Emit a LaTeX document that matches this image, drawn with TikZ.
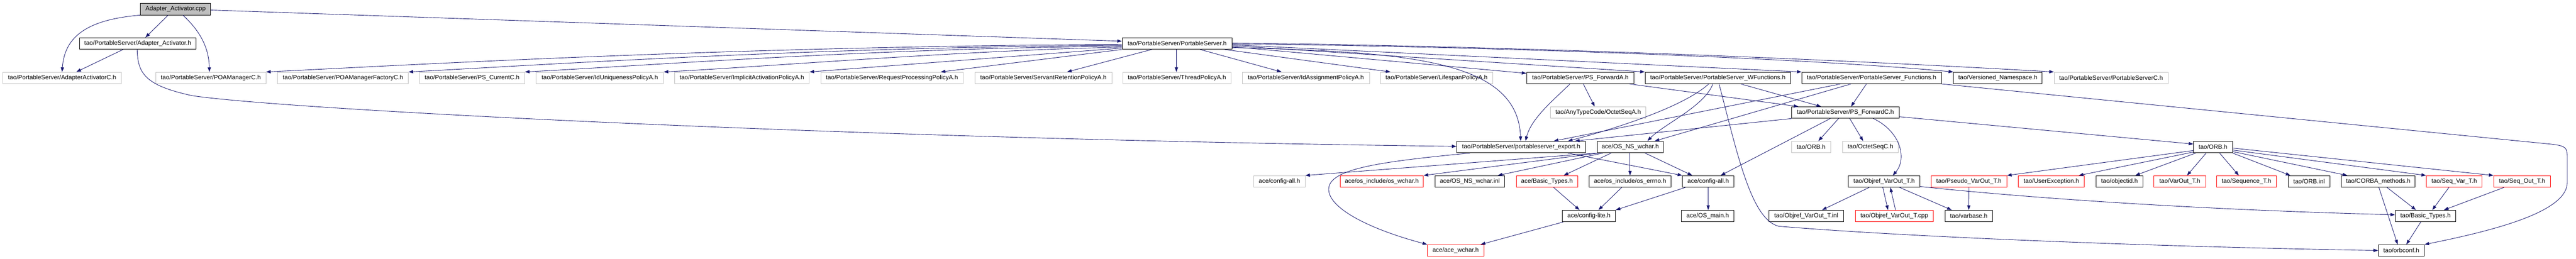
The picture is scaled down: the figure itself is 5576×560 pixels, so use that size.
\documentclass[tikz,border=0pt]{standalone}
\usepackage{fontspec}
\newfontfamily\nodefont{Liberation Sans}
\usetikzlibrary{arrows.meta}
\definecolor{edgecol}{HTML}{191970}
\definecolor{graybd}{HTML}{BFBFBF}
\definecolor{redbd}{HTML}{FF0000}
\tikzset{
  box/.style={rectangle, minimum height=25pt, inner xsep=2pt, inner ysep=0pt,
    line width=1pt, fill=white, anchor=center, text=black,
    font={\nodefont\fontsize{13.33}{16}\selectfont}},
  nb/.style={box, draw=black},
  ng/.style={box, draw=graybd},
  nr/.style={box, draw=redbd},
  nroot/.style={box, draw=black, fill=graybd},
  dep/.style={draw=edgecol, line width=1pt, -{Triangle[length=10pt,width=7pt]}, edgecol}
}
\begin{document}
\begin{tikzpicture}[x=1pt,y=-1pt]
\useasboundingbox (0,0) rectangle (5576,560);
% Row A
\node[nroot, minimum width=152pt] (cpp) at (380,19.8) {Adapter\_Activator.cpp};
% Row B
\node[nb, minimum width=252.6pt] (aah) at (298.2,94.2) {tao/PortableServer/Adapter\_Activator.h};
\node[nb, minimum width=238pt] (psh) at (2548,94.2) {tao/PortableServer/PortableServer.h};
% Row C
\node[ng, minimum width=257pt] (aacC) at (134.4,168.8) {tao/PortableServer/AdapterActivatorC.h};
\node[ng, minimum width=238.3pt] (poamC) at (456.3,168.8) {tao/PortableServer/POAManagerC.h};
\node[ng, minimum width=283pt] (poamfC) at (742.4,168.8) {tao/PortableServer/POAManagerFactoryC.h};
\node[ng, minimum width=227.6pt] (pscurC) at (1021.9,168.8) {tao/PortableServer/PS\_CurrentC.h};
\node[ng, minimum width=275.3pt] (iduA) at (1298.5,168.8) {tao/PortableServer/IdUniquenessPolicyA.h};
\node[ng, minimum width=291.8pt] (implA) at (1605.8,168.8) {tao/PortableServer/ImplicitActivationPolicyA.h};
\node[ng, minimum width=308pt] (reqA) at (1930.8,168.8) {tao/PortableServer/RequestProcessingPolicyA.h};
\node[ng, minimum width=297.2pt] (srvA) at (2258.5,168.8) {tao/PortableServer/ServantRetentionPolicyA.h};
\node[ng, minimum width=235.1pt] (thrA) at (2547.6,168.8) {tao/PortableServer/ThreadPolicyA.h};
\node[ng, minimum width=275.3pt] (idaA) at (2826.6,168.8) {tao/PortableServer/IdAssignmentPolicyA.h};
\node[ng, minimum width=243.2pt] (lifeA) at (3109.6,168.8) {tao/PortableServer/LifespanPolicyA.h};
\node[nb, minimum width=232.5pt] (psfA) at (3420.8,168.8) {tao/PortableServer/PS\_ForwardA.h};
\node[nb, minimum width=315pt] (wfun) at (3718.3,168.8) {tao/PortableServer/PortableServer\_WFunctions.h};
\node[nb, minimum width=302pt] (fun) at (4051.1,168.8) {tao/PortableServer/PortableServer\_Functions.h};
\node[nb, minimum width=192pt] (vns) at (4324.5,168.8) {tao/Versioned\_Namespace.h};
\node[ng, minimum width=246.5pt] (psC) at (4569.5,168.8) {tao/PortableServer/PortableServerC.h};
% Row D
\node[ng, minimum width=207pt] (octA) at (3459.4,243.8) {tao/AnyTypeCode/OctetSeqA.h};
\node[nb, minimum width=232.5pt] (psfC) at (3994.5,243.8) {tao/PortableServer/PS\_ForwardC.h};
% Row E
\node[nb, minimum width=279pt] (pse) at (3292.7,318.5) {tao/PortableServer/portableserver\_export.h};
\node[nb, minimum width=143.4pt] (osnsw) at (3528.8,318.5) {ace/OS\_NS\_wchar.h};
\node[ng, minimum width=84.2pt] (orbg) at (3920.2,318.5) {tao/ORB.h};
\node[ng, minimum width=121pt] (octC) at (4048.8,318.5) {tao/OctetSeqC.h};
\node[nb, minimum width=84pt] (orb) at (4790.2,318.5) {tao/ORB.h};
% Row F
\node[ng, minimum width=111.2pt] (cfgAg) at (2769.4,393) {ace/config-all.h};
\node[nr, minimum width=180pt] (oswchar) at (2991,393) {ace/os\_include/os\_wchar.h};
\node[nb, minimum width=151pt] (osnswinl) at (3181.6,393) {ace/OS\_NS\_wchar.inl};
\node[nr, minimum width=132.7pt] (aceBT) at (3348.5,393) {ace/Basic\_Types.h};
\node[nb, minimum width=177pt] (oserrno) at (3528.3,393) {ace/os\_include/os\_errno.h};
\node[nb, minimum width=111.3pt] (cfgA) at (3697.5,393) {ace/config-all.h};
\node[nb, minimum width=154.6pt] (objh) at (4078.3,393) {tao/Objref\_VarOut\_T.h};
\node[nr, minimum width=163.7pt] (pseudo) at (4262,393) {tao/Pseudo\_VarOut\_T.h};
\node[nr, minimum width=143pt] (userex) at (4440.3,393) {tao/UserException.h};
\node[nb, minimum width=101.4pt] (objid) at (4587.8,393) {tao/objectid.h};
\node[nr, minimum width=113pt] (varout) at (4718.4,393) {tao/VarOut\_T.h};
\node[nr, minimum width=129.6pt] (seqT) at (4862.7,393) {tao/Sequence\_T.h};
\node[nb, minimum width=91pt] (orbinl) at (4998.3,393) {tao/ORB.inl};
\node[nb, minimum width=160pt] (corba) at (5147.9,393) {tao/CORBA\_methods.h};
\node[nr, minimum width=120.7pt] (seqvar) at (5312.3,393) {tao/Seq\_Var\_T.h};
\node[nr, minimum width=122.8pt] (seqout) at (5459.3,393) {tao/Seq\_Out\_T.h};
% Row G
\node[nb, minimum width=114.8pt] (cfglite) at (3439.5,467.8) {ace/config-lite.h};
\node[nb, minimum width=113.3pt] (osmain) at (3696.5,467.8) {ace/OS\_main.h};
\node[nb, minimum width=161.2pt] (objinl) at (3909.7,467.8) {tao/Objref\_VarOut\_T.inl};
\node[nr, minimum width=169pt] (objcpp) at (4100.3,467.8) {tao/Objref\_VarOut\_T.cpp};
\node[nb, minimum width=102.5pt] (varbase) at (4261.5,467.8) {tao/varbase.h};
\node[nb, minimum width=130.8pt] (taoBT) at (5250.3,467.8) {tao/Basic\_Types.h};
% Row H
\node[nr, minimum width=122pt] (acewchar) at (3150.8,542.5) {ace/ace\_wchar.h};
\node[nb, minimum width=99.4pt] (orbconf) at (5197.8,542.5) {tao/orbconf.h};

% ---- edges ----
\draw[dep] (cpp.south west) .. controls (195,42) and (140,75) .. (aacC.north);
\draw[dep] ([xshift=-16pt]cpp.south) -- ([xshift=16.5pt]aah.north);
\draw[dep] ([xshift=16pt]cpp.south) .. controls (425,60) and (452,95) .. ([xshift=-3pt]poamC.north);
\draw[dep] ([yshift=-2pt]cpp.east) -- ([yshift=5pt]psh.west);
\draw[dep] ([xshift=-31.7pt]aah.south) -- ([xshift=30.8pt]aacC.north);
\draw[dep] ([xshift=-1.3pt]aah.south) .. controls (298,160) and (315,185) .. (415,207)
   .. controls (600,236) and (1800,300) .. ([yshift=1.5pt]pse.west);
\draw[dep] ([yshift=-2pt]psh.west) .. controls (1600,100) and (900,140) .. (poamC.north east);
\draw[dep] ([yshift=-4pt]psh.west) .. controls (1750,102) and (1150,142) .. (poamfC.north east);
\draw[dep] ([yshift=-6pt]psh.west) .. controls (1900,104) and (1400,142) .. (pscurC.north east);
\draw[dep] ([yshift=-8pt]psh.west) .. controls (2100,108) and (1650,145) .. (iduA.north east);
\draw[dep] ([yshift=-10pt]psh.west) -- (implA.north east);
\draw[dep] (psh.south west) -- ([xshift=105.4pt]reqA.north);
\draw[dep] ([xshift=-55pt]psh.south) -- ([xshift=51.3pt]srvA.north);
\draw[dep] ([xshift=-1.6pt]psh.south) -- ([xshift=-1.2pt]thrA.north);
\draw[dep] ([xshift=49.8pt]psh.south) -- ([xshift=-52.6pt]idaA.north);
\draw[dep] ([xshift=103pt]psh.south) -- ([xshift=-99.8pt]lifeA.north);
\draw[dep] ([yshift=-7pt]psh.east) -- ([yshift=-3pt]psfA.north west);
\draw[dep] ([yshift=-9pt]psh.east) .. controls (3050,112) and (3285,130) .. ([xshift=-1pt]pse.north);
\draw[dep] ([yshift=-5pt]psh.east) -- (wfun.north west);
\draw[dep] ([yshift=-3pt]psh.east) -- (fun.north west);
\draw[dep] ([yshift=-1pt]psh.east) .. controls (3200,100) and (3900,125) .. (vns.north west);
\draw[dep] ([yshift=1pt]psh.east) .. controls (3300,100) and (4000,130) .. (psC.north west);
\draw[dep] ([xshift=-22.6pt]psfA.south) .. controls (3365,215) and (3315,255) .. ([xshift=9.3pt]pse.north);
\draw[dep] ([xshift=6.4pt]psfA.south) -- ([xshift=-7.6pt]octA.north);
\draw[dep] ([xshift=106pt]psfA.south) -- ([xshift=-101.6pt]psfC.north);
\draw[dep] ([xshift=49.6pt]wfun.south) -- ([xshift=-52.5pt]psfC.north);
\draw[dep] ([xshift=-19.6pt]wfun.south) .. controls (3640,235) and (3480,283) .. ([xshift=101.3pt]pse.north);
\draw[dep] ([xshift=-10.7pt]wfun.south) .. controls (3690,230) and (3600,270) .. ([xshift=37.2pt]osnsw.north);
\draw[dep] ([xshift=2.7pt]wfun.south) .. controls (3760,330) and (3790,475) .. (3850,490)
   .. controls (4150,515) and (4700,535) .. (orbconf.west);
\draw[dep] ([xshift=-67.1pt]fun.south) -- ([xshift=70.3pt]pse.north);
\draw[dep] ([xshift=-44.4pt]fun.south) -- ([xshift=52.8pt]osnsw.north);
\draw[dep] ([xshift=-11.1pt]fun.south) -- ([xshift=12.2pt]psfC.north);
\draw[dep] (fun.south east) -- (5520,312) .. controls (5557,316) and (5557,320) .. (5557,345)
   -- (5557,395) .. controls (5557,455) and (5420,495) .. (orbconf.north east);
\draw[dep] (psfC.south west) -- ([xshift=116.3pt]pse.north);
\draw[dep] ([xshift=-32.8pt]psfC.south) -- ([xshift=27pt]cfgA.north);
\draw[dep] ([xshift=-14.9pt]psfC.south) -- ([xshift=15.8pt]orbg.north);
\draw[dep] ([xshift=9.5pt]psfC.south) -- ([xshift=-15.8pt]octC.north);
\draw[dep] ([xshift=60.5pt]psfC.south) .. controls (4115,285) and (4128,345) .. ([xshift=18.7pt]objh.north);
\draw[dep] ([yshift=-9pt]psfC.east) -- ([yshift=6.5pt]orb.west);
\draw[dep] ([xshift=-111pt]pse.south) .. controls (2990,350) and (2876,365) .. (2876,410)
   .. controls (2876,450) and (2960,495) .. (acewchar.north west);
\draw[dep] ([xshift=101pt]pse.south) -- (cfgA.north west);
\draw[dep] (osnsw.south west) -- (cfgAg.north east);
\draw[dep] ([xshift=-68pt]osnsw.south) -- (oswchar.north east);
\draw[dep] ([xshift=-59.2pt]osnsw.south) -- ([xshift=60.4pt]osnswinl.north);
\draw[dep] ([xshift=-41.3pt]osnsw.south) -- ([xshift=36.3pt]aceBT.north);
\draw[dep] ([xshift=-0.5pt]osnsw.south) -- (oserrno.north);
\draw[dep] ([xshift=32pt]osnsw.south) -- ([xshift=-34.5pt]cfgA.north);
\draw[dep] ([xshift=14.5pt]aceBT.south) -- ([xshift=-20.5pt]cfglite.north);
\draw[dep] ([xshift=-18pt]oserrno.south) -- ([xshift=20.5pt]cfglite.north);
\draw[dep] ([xshift=-49.5pt]cfgA.south) -- (cfglite.north east);
\draw[dep] (cfgA.south) -- ([xshift=1pt]osmain.north);
\draw[dep] ([xshift=-55.8pt]cfglite.south) -- ([xshift=54.2pt]acewchar.north);
\draw[dep] ([xshift=-32.3pt]objh.south) -- ([xshift=34.2pt]objinl.north);
\draw[dep] ([xshift=-2.8pt]objh.south) -- ([xshift=-13.6pt]objcpp.north);
\draw[dep] ([xshift=2.7pt]objcpp.north) -- ([xshift=13.5pt]objh.south);
\draw[dep] ([xshift=33.7pt]objh.south) -- ([xshift=-37pt]varbase.north);
\draw[dep] ([yshift=-11pt]objh.east) .. controls (4500,440) and (4900,458) .. ([yshift=2.7pt]taoBT.west);
\draw[dep] (pseudo.south) -- (varbase.north);
\draw[dep] ([yshift=-7.5pt]orb.west) -- (pseudo.north east);
\draw[dep] ([yshift=-10.8pt]orb.west) -- ([xshift=59.4pt]userex.north);
\draw[dep] ([xshift=5pt]orb.south west) -- ([xshift=34.2pt]objid.north);
\draw[dep] ([xshift=-14.8pt]orb.south) -- ([xshift=15.6pt]varout.north);
\draw[dep] ([xshift=14.3pt]orb.south) -- ([xshift=-16.7pt]seqT.north);
\draw[dep] (orb.south east) -- ([xshift=-40.6pt]orbinl.north);
\draw[dep] ([yshift=-9.8pt]orb.east) -- ([xshift=-66.9pt]corba.north);
\draw[dep] ([yshift=-6.5pt]orb.east) -- (seqvar.north west);
\draw[dep] ([yshift=-2.2pt]orb.east) -- (seqout.north west);
\draw[dep] ([xshift=19pt]corba.south) -- ([xshift=-20.7pt]taoBT.north);
\draw[dep] ([xshift=1.4pt]corba.south) -- ([xshift=-7.9pt]orbconf.north);
\draw[dep] ([xshift=-11.5pt]seqvar.south) -- ([xshift=14.7pt]taoBT.north);
\draw[dep] ([xshift=-39.3pt]seqout.south) -- ([xshift=39.7pt]taoBT.north);
\draw[dep] ([xshift=-10.3pt]taoBT.south) -- ([xshift=10.9pt]orbconf.north);
\end{tikzpicture}
\end{document}
